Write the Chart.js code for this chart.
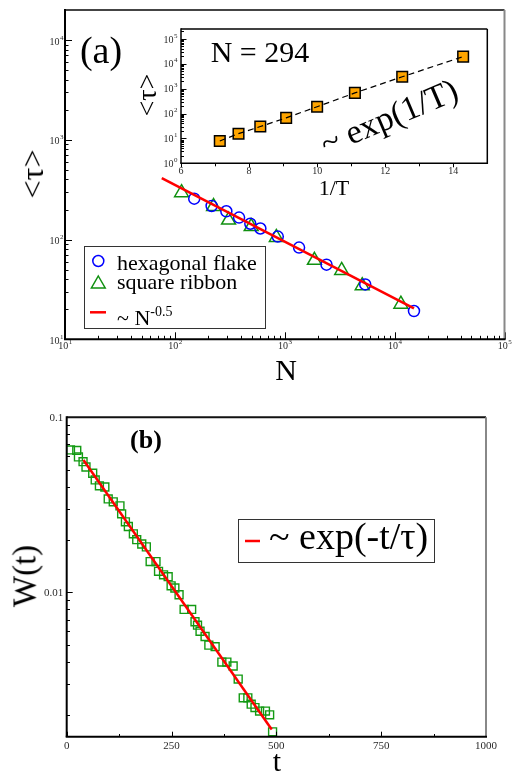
<!DOCTYPE html>
<html>
<head>
<meta charset="utf-8">
<script src="https://cdn.jsdelivr.net/npm/chart.js@4.4.1/dist/chart.umd.min.js"></script>
<style>
  body { margin: 0; background: #fff; }
  #page { position: relative; width: 514px; height: 772px; overflow: hidden; background: #fff;
          font-family: "Liberation Serif", "Times New Roman", serif; color: #000; }
  canvas { position: absolute; }
  .lbl { position: absolute; white-space: nowrap; line-height: 1; transform: translate(-50%, -50%); }
  .rot { transform: translate(-50%, -50%) rotate(-90deg); }
  .lt { position: absolute; white-space: nowrap; line-height: 1; }
  .box { position: absolute; box-sizing: border-box; border: 1.5px solid #333; }
  .sup { position: relative; top: -0.62em; font-size: 14px; }
  svg { position: absolute; left: 0; top: 0; }
</style>
</head>
<body>
<div id="page">
  <canvas id="ca" width="514" height="385" style="left:0;top:0"></canvas>
  <canvas id="ci" width="375" height="185" style="left:130px;top:20px"></canvas>
  <canvas id="cb" width="514" height="387" style="left:0;top:385px"></canvas>

  <!-- panel (a) texts -->
  <div class="lbl" style="left:101px;top:50px;font-size:38px">(a)</div>
  <div class="lbl rot" style="left:32px;top:174px;font-size:32px">&lt;τ&gt;</div>
  <div class="lbl" style="left:286px;top:370px;font-size:30px">N</div>
  <div class="lbl" style="left:260px;top:52px;font-size:30px">N = 294</div>
  <div class="lbl rot" style="left:147px;top:95px;font-size:28px">&lt;τ&gt;</div>
  <div class="lbl" style="left:334px;top:188px;font-size:22px">1/T</div>
  <div class="lbl" style="left:389px;top:117px;font-size:34px;transform:translate(-50%,-50%) rotate(-23deg)">~ exp(1/T)</div>

  <!-- legend (a) -->
  <div class="box" style="left:84px;top:246px;width:182px;height:83px"></div>
  <div class="lt" style="left:117px;top:251.6px;font-size:22px">hexagonal flake</div>
  <div class="lt" style="left:117px;top:270.6px;font-size:22px">square ribbon</div>
  <div class="lt" style="left:117px;top:306.6px;font-size:22px">~ N<span class="sup">-0.5</span></div>

  <!-- panel (b) texts -->
  <div class="lbl" style="left:146px;top:440px;font-size:26px;font-weight:bold">(b)</div>
  <div class="lbl rot" style="left:25px;top:576px;font-size:33px">W(t)</div>
  <div class="lbl" style="left:277px;top:761px;font-size:30px">t</div>
  <div class="box" style="left:238px;top:519px;width:197px;height:44px"></div>
  <div class="lt" style="left:269px;top:516.5px;font-size:38px">~ exp(-t/τ)</div>

  <svg width="514" height="772">
    <circle cx="98.3" cy="261" r="5.5" fill="none" stroke="#0000ff" stroke-width="1.5"/>
    <polygon points="98.3,276 105.2,288 91.4,288" fill="none" stroke="#109010" stroke-width="1.5"/>
    <line x1="90" y1="312.3" x2="106" y2="312.3" stroke="#ff0000" stroke-width="2.5"/>
    <line x1="245" y1="541" x2="260" y2="541" stroke="#ff0000" stroke-width="2.5"/>
  </svg>
</div>

<script>
// panel (a): hexagonal flakes
const hexN = [150, 216, 294, 384, 486, 600, 864, 1350, 2400, 5400, 15000];
const hexTau = [257, 217, 192, 166, 144, 129, 107, 83, 56, 35.5, 19.2];
// panel (a): square ribbons
const ribbonN = [115, 225, 308, 495, 838, 1862, 3296, 5070, 11400];
const ribbonTau = [295, 214, 157, 135, 105, 62, 49, 34.5, 22.5];
// panel (a): ~ N^-0.5 guide
const fitN = [76, 15000];
const fitTau = [413, 20.4];

// inset: N = 294
const invT = [7.14, 7.69, 8.33, 9.09, 10, 11.11, 12.5, 14.29];
const tauT = [7.9, 15.5, 30, 67, 188, 675, 3000, 19400];

// panel (b)
const tVals = [9, 24, 28, 39, 46, 62, 68, 78, 91, 99, 111, 127, 131, 140, 147, 159, 167, 179, 190, 199,
  213, 219, 231, 242, 249, 258, 268, 280, 298, 306, 312, 318, 330, 339, 354, 370, 382, 397, 409, 421,
  432, 440, 449, 460, 474, 484, 491];
const wVals = [0.0651, 0.0647, 0.0594, 0.0558, 0.0520, 0.0479, 0.0439, 0.0406, 0.0400, 0.0342, 0.0329,
  0.0312, 0.0281, 0.0253, 0.0238, 0.0216, 0.0200, 0.0189, 0.0182, 0.0150, 0.0150, 0.0132, 0.0126, 0.0123,
  0.0109, 0.0106, 0.0097, 0.0080, 0.0080, 0.0068, 0.0065, 0.0060, 0.0056, 0.0050, 0.0049, 0.0040, 0.0040,
  0.0038, 0.0032, 0.0025, 0.0025, 0.0023, 0.0022, 0.0021, 0.0021, 0.0020, 0.0016];
const fitT = [40, 489];
const fitW = [0.0571, 0.00165];

// tick values
const mainXTicks = [10, 100, 1000, 10000, 100000];
const mainYTicks = [10, 100, 1000, 10000];
const insetXTicks = [6, 8, 10, 12, 14];
const insetXMinor = [7, 9, 11, 13];
const insetYTicks = [1, 10, 100, 1000, 10000, 100000];
const bXTicks = [0, 250, 500, 750, 1000];
const bXMinor = [125, 375, 625, 875];
const bYTicks = [0.1, 0.01];

const pts = (xs, ys) => xs.map((x, i) => ({ x: x, y: ys[i] }));

function logMinor(decades, limit) {
  const out = [];
  decades.forEach(d => { for (let m = 2; m <= 9; m++) if (m * d < limit) out.push(m * d); });
  return out;
}

function putLabel(ctx, lab, x, y, align, size) {
  const ss = Math.round(size * 0.72);
  ctx.font = size + 'px "Liberation Serif", serif';
  const wb = ctx.measureText(lab.base).width;
  let ws = 0;
  if (lab.sup) {
    ctx.font = ss + 'px "Liberation Serif", serif';
    ws = ctx.measureText(lab.sup).width;
  }
  const x0 = align === 'center' ? x - (wb + ws) / 2 : x - wb - ws;
  ctx.textAlign = 'left';
  ctx.textBaseline = 'middle';
  ctx.font = size + 'px "Liberation Serif", serif';
  ctx.fillText(lab.base, x0, y);
  if (lab.sup) {
    ctx.font = ss + 'px "Liberation Serif", serif';
    ctx.fillText(lab.sup, x0 + wb + 0.5, y - size * 0.42);
  }
}

const logLab = v => ({ base: '10', sup: String(Math.round(Math.log10(v))) });
const plainLab = v => ({ base: String(v) });

// frame, inward ticks and tick labels
function axisDeco(cfg) {
  return {
    id: 'axisDeco',
    afterDatasetsDraw(chart) {
      const ctx = chart.ctx, a = chart.chartArea;
      const xs = chart.scales.x, ys = chart.scales.y;
      ctx.save();
      ctx.strokeStyle = '#000';
      ctx.lineWidth = 1;
      ctx.beginPath();
      const xt = (vals, len) => vals.forEach(v => {
        const px = Math.round(xs.getPixelForValue(v)) + 0.5;
        ctx.moveTo(px, a.bottom);
        ctx.lineTo(px, a.bottom - cfg.xDir * len);
      });
      const yt = (vals, len) => vals.forEach(v => {
        const py = Math.round(ys.getPixelForValue(v)) + 0.5;
        ctx.moveTo(a.left, py);
        ctx.lineTo(a.left + len, py);
      });
      xt(cfg.xMajor, cfg.xLen[0]); xt(cfg.xMinor, cfg.xLen[1]);
      yt(cfg.yMajor, cfg.yLen[0]); yt(cfg.yMinor, cfg.yLen[1]);
      ctx.stroke();

      const f = cfg.frame;
      const side = (x1, y1, x2, y2, c) => {
        ctx.beginPath(); ctx.strokeStyle = c; ctx.lineWidth = f.w;
        ctx.moveTo(x1, y1); ctx.lineTo(x2, y2); ctx.stroke();
      };
      side(a.left, a.top, a.right, a.top, f.top);
      side(a.right, a.top, a.right, a.bottom, f.right);
      side(a.left - f.w / 2, a.bottom, a.right + f.w / 2, a.bottom, f.bottom);
      side(a.left, a.top - f.w / 2, a.left, a.bottom, f.left);

      ctx.fillStyle = '#2a2a2a';
      cfg.xMajor.forEach(v => putLabel(ctx, cfg.xFmt(v), xs.getPixelForValue(v), a.bottom + cfg.xOff, 'center', cfg.font));
      cfg.yMajor.forEach(v => putLabel(ctx, cfg.yFmt(v), a.left - cfg.yGap, ys.getPixelForValue(v) + cfg.yShift, 'right', cfg.font));
      ctx.restore();
    }
  };
}

const baseOpts = (pad) => ({
  responsive: false,
  animation: false,
  layout: { padding: pad },
  plugins: { legend: { display: false }, tooltip: { enabled: false } }
});

// panel (a)
const optsA = baseOpts({ left: 65, top: 10, right: 5.3, bottom: 45.7 });
optsA.scales = {
  x: { type: 'logarithmic', min: 10, max: 100000, display: false },
  y: { type: 'logarithmic', min: 10, max: 20000, display: false }
};
new Chart(document.getElementById('ca'), {
  type: 'scatter',
  data: {
    datasets: [
      { label: '~ N^-0.5', data: pts(fitN, fitTau), showLine: true, borderColor: '#ff0000',
        borderWidth: 2.5, pointRadius: 0 },
      { label: 'hexagonal flake', data: pts(hexN, hexTau), pointStyle: 'circle', pointRadius: 5.5,
        borderColor: '#0000ff', backgroundColor: 'rgba(0,0,0,0)', borderWidth: 1.5 },
      { label: 'square ribbon', data: pts(ribbonN, ribbonTau), pointStyle: 'triangle', pointRadius: 8,
        borderColor: '#109010', backgroundColor: 'rgba(0,0,0,0)', borderWidth: 1.5 }
    ]
  },
  options: optsA,
  plugins: [axisDeco({
    xMajor: mainXTicks, xMinor: logMinor([10, 100, 1000, 10000], 100000), xDir: 1, xLen: [7, 3.5],
    yMajor: mainYTicks, yMinor: logMinor([10, 100, 1000], 20000), yLen: [7, 3.5],
    frame: { w: 2, top: '#444', right: '#888', bottom: '#000', left: '#000' },
    xFmt: logLab, yFmt: logLab, xOff: 7, yGap: 2, yShift: 2, font: 10
  })]
});

// inset
const optsI = baseOpts({ left: 51, top: 7.3, right: 17.7, bottom: 41.7 });
optsI.scales = {
  x: { type: 'linear', min: 6, max: 15, display: false },
  y: { type: 'logarithmic', min: 1, max: 250000, display: false }
};
new Chart(document.getElementById('ci'), {
  type: 'scatter',
  data: {
    datasets: [
      { label: 'fit', data: pts(invT, tauT), showLine: true, borderColor: '#000', borderWidth: 1.2,
        borderDash: [6, 4], pointRadius: 0 },
      { label: 'N = 294', data: pts(invT, tauT), pointStyle: 'rect', pointRadius: 7.5,
        backgroundColor: '#ffa500', borderColor: '#000', borderWidth: 1.5 }
    ]
  },
  options: optsI,
  plugins: [axisDeco({
    xMajor: insetXTicks, xMinor: insetXMinor, xDir: -1, xLen: [4, 3],
    yMajor: insetYTicks, yMinor: logMinor([1, 10, 100, 1000, 10000, 100000], 250000), yLen: [5.5, 3],
    frame: { w: 1.5, top: '#000', right: '#000', bottom: '#000', left: '#000' },
    xFmt: plainLab, yFmt: logLab, xOff: 8.4, yGap: 4, yShift: 1, font: 10
  })]
});

// panel (b)
const optsB = baseOpts({ left: 66.7, top: 32.3, right: 28, bottom: 35.3 });
optsB.scales = {
  x: { type: 'linear', min: 0, max: 1000, display: false },
  y: { type: 'logarithmic', min: 0.0015, max: 0.1, display: false }
};
new Chart(document.getElementById('cb'), {
  type: 'scatter',
  data: {
    datasets: [
      { label: '~ exp(-t/τ)', data: pts(fitT, fitW), showLine: true, borderColor: '#ff0000',
        borderWidth: 2.5, pointRadius: 0 },
      { label: 'W(t)', data: pts(tVals, wVals), pointStyle: 'rect', pointRadius: 5.6,
        borderColor: '#139a13', backgroundColor: 'rgba(0,0,0,0)', borderWidth: 1.4 }
    ]
  },
  options: optsB,
  plugins: [axisDeco({
    xMajor: bXTicks, xMinor: bXMinor, xDir: 1, xLen: [5, 2.7],
    yMajor: bYTicks, yMinor: logMinor([0.001, 0.01], 0.1).filter(v => v > 0.0015), yLen: [6, 3.3],
    frame: { w: 2, top: '#111', right: '#888', bottom: '#000', left: '#000' },
    xFmt: plainLab, yFmt: plainLab, xOff: 9, yGap: 3.4, yShift: 0.4, font: 11
  })]
});
</script>
</body>
</html>
